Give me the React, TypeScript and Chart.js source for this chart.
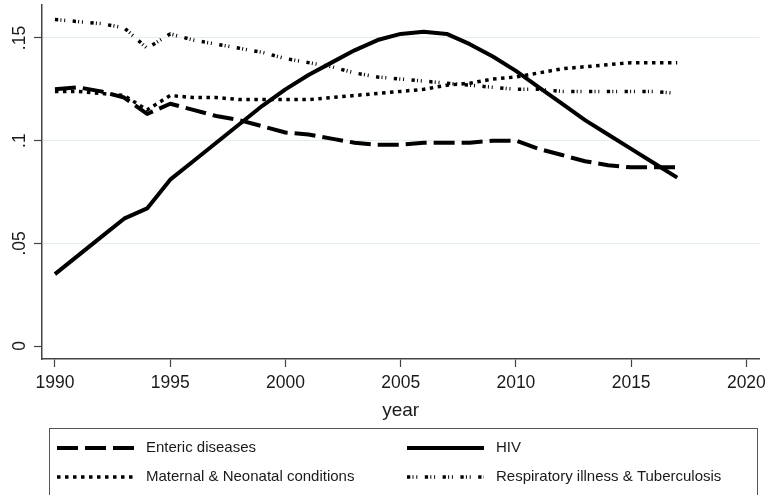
import React, { useEffect, useRef } from "react";
import { Chart, registerables } from "chart.js";
Chart.register(...registerables);

const FONT = '"Liberation Sans", Arial, Helvetica, sans-serif';

const years = [1990, 1991, 1992, 1993, 1994, 1995, 1996, 1997, 1998, 1999, 2000, 2001, 2002, 2003, 2004, 2005, 2006, 2007, 2008, 2009, 2010, 2011, 2012, 2013, 2014, 2015, 2016, 2017];
const enteric = [0.125, 0.126, 0.124, 0.121, 0.113, 0.118, 0.115, 0.112, 0.110, 0.107, 0.104, 0.103, 0.101, 0.099, 0.098, 0.098, 0.099, 0.099, 0.099, 0.100, 0.100, 0.096, 0.093, 0.090, 0.088, 0.087, 0.087, 0.087];
const hiv = [0.035, 0.044, 0.053, 0.062, 0.067, 0.081, 0.090, 0.099, 0.108, 0.117, 0.125, 0.132, 0.138, 0.144, 0.149, 0.152, 0.153, 0.152, 0.147, 0.141, 0.134, 0.126, 0.118, 0.110, 0.103, 0.096, 0.089, 0.082];
const maternal = [0.124, 0.124, 0.123, 0.122, 0.115, 0.122, 0.121, 0.121, 0.120, 0.120, 0.120, 0.120, 0.121, 0.122, 0.123, 0.124, 0.125, 0.127, 0.128, 0.130, 0.131, 0.133, 0.135, 0.136, 0.137, 0.138, 0.138, 0.138];
const respiratory = [0.159, 0.158, 0.157, 0.155, 0.145, 0.152, 0.149, 0.147, 0.145, 0.143, 0.140, 0.138, 0.136, 0.133, 0.131, 0.130, 0.129, 0.128, 0.127, 0.126, 0.125, 0.125, 0.124, 0.124, 0.124, 0.124, 0.124, 0.123];

const seriesLabels = ["Enteric diseases", "HIV", "Maternal & Neonatal conditions", "Respiratory illness & Tuberculosis"];
const xTicks = [1990, 1995, 2000, 2005, 2010, 2015, 2020];
const yTicks = [0, 0.05, 0.1, 0.15];
const yTickLabels = ["0", ".05", ".1", ".15"];
const xTitle = "year";

const toPoints = (vals: number[]) => vals.map((v, i) => ({ x: years[i], y: v }));

const decorPlugin = {
  id: "stataDecor",
  afterDraw(chart: any) {
    const ctx = chart.ctx as CanvasRenderingContext2D;
    const ys = chart.scales.y;
    const ca = chart.chartArea;
    ctx.save();
    // rotated y tick labels
    ctx.fillStyle = "#1a1a1a";
    ctx.font = `17.5px ${FONT}`;
    ctx.textAlign = "center";
    ctx.textBaseline = "alphabetic";
    yTicks.forEach((v, i) => {
      const py = ys.getPixelForValue(v);
      ctx.save();
      ctx.translate(25, py);
      ctx.rotate(-Math.PI / 2);
      ctx.fillText(yTickLabels[i], 0, 0);
      ctx.restore();
    });
    // x title
    ctx.font = `19px ${FONT}`;
    ctx.textBaseline = "middle";
    ctx.fillText(xTitle, (ca.left + ca.right) / 2, 411);
    // legend box
    ctx.strokeStyle = "#555";
    ctx.lineWidth = 1;
    ctx.strokeRect(49.5, 428.5, 708, 100);
    ctx.font = `15px ${FONT}`;
    ctx.textAlign = "left";
    chart.data.datasets.forEach((ds: any, i: number) => {
      const col = i % 2;
      const row = Math.floor(i / 2);
      const x0 = col ? 407 : 57;
      const y = row ? 477 : 448;
      ctx.save();
      ctx.strokeStyle = ds.borderColor;
      ctx.lineWidth = ds.borderWidth;
      ctx.lineCap = "butt";
      ctx.setLineDash(ds.borderDash || []);
      ctx.beginPath();
      ctx.moveTo(x0, y);
      ctx.lineTo(x0 + 77, y);
      ctx.stroke();
      ctx.restore();
      ctx.fillStyle = "#1a1a1a";
      ctx.fillText(ds.label, x0 + 89, y);
    });
    ctx.restore();
  },
};

export default function App() {
  const ref = useRef<HTMLCanvasElement>(null);
  useEffect(() => {
    if (!ref.current) return;
    const chart = new Chart(ref.current, {
      type: "line",
      data: {
        datasets: [
          { label: seriesLabels[0], data: toPoints(enteric), borderColor: "#000", borderWidth: 4, borderDash: [21, 7] },
          { label: seriesLabels[1], data: toPoints(hiv), borderColor: "#000", borderWidth: 4 },
          { label: seriesLabels[2], data: toPoints(maternal), borderColor: "#000", borderWidth: 3.5, borderDash: [3.5, 4.5] },
          { label: seriesLabels[3], data: toPoints(respiratory), borderColor: "#000", borderWidth: 3.5, borderDash: [3.3, 2.2, 1, 2.8, 1, 7.5] },
        ] as any,
      },
      options: {
        animation: false,
        responsive: false,
        layout: { padding: { left: 0, right: 9, top: 5, bottom: 0 } },
        plugins: { legend: { display: false }, tooltip: { enabled: false } },
        elements: { point: { radius: 0 }, line: { tension: 0, borderJoinStyle: "round", borderCapStyle: "butt" } },
        scales: {
          x: {
            type: "linear",
            min: 1989.439,
            max: 2020.561,
            afterBuildTicks: (s: any) => { s.ticks = xTicks.map((v) => ({ value: v })); },
            afterFit: (s: any) => { s.height = 136; },
            grid: { drawOnChartArea: false, drawTicks: true, tickLength: 8, tickColor: "#444", tickWidth: 1.2 },
            border: { display: true, color: "#444", width: 1.5 },
            ticks: { padding: 6, color: "#1a1a1a", font: { size: 17.5, family: FONT }, maxRotation: 0, autoSkip: false, callback: (v: any) => String(v) },
          },
          y: {
            type: "linear",
            min: -0.00633,
            max: 0.16607,
            afterBuildTicks: (s: any) => { s.ticks = yTicks.map((v) => ({ value: v })); },
            afterFit: (s: any) => { s.width = 42; },
            grid: {
              color: (c: any) => (c.tick && c.tick.value === 0 ? "rgba(0,0,0,0)" : "#e3edf0"),
              lineWidth: 1,
              drawTicks: true,
              tickLength: 8,
              tickColor: "#444",
              tickWidth: 1.2,
            },
            border: { display: true, color: "#444", width: 1.5 },
            ticks: { display: false },
          },
        },
      } as any,
      plugins: [decorPlugin],
    });
    return () => chart.destroy();
  }, []);
  return (
    <div style={{ position: "fixed", left: 0, top: 0, width: 772, height: 495, background: "#fff" }}>
      <canvas ref={ref} width={772} height={495} style={{ display: "block" }} />
    </div>
  );
}
